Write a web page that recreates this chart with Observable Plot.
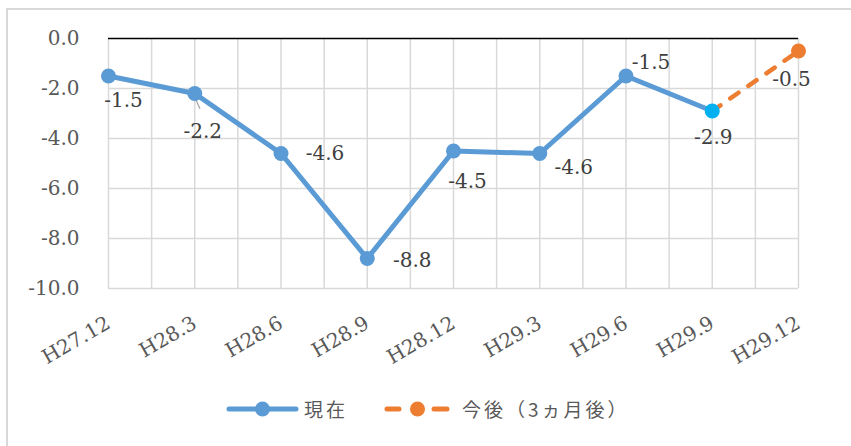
<!DOCTYPE html>
<html>
<head>
<meta charset="utf-8">
<script src="https://cdn.jsdelivr.net/npm/d3@7"></script>
<script src="https://cdn.jsdelivr.net/npm/@observablehq/plot@0.6"></script>
<style>
  html, body { margin: 0; padding: 0; background: #fff; }
  #wrap { position: relative; width: 851px; height: 446px; overflow: hidden; background: #fff; }
  #frame { position: absolute; left: 6px; top: 8px; width: 900px; height: 500px; border: 2px solid #d9d9d9; box-sizing: border-box; }
  #chart { position: absolute; left: 0; top: 0; }
  .leg { position: absolute; top: 398px; font-family: "Noto Sans CJK JP", sans-serif; font-size: 19px; letter-spacing: 3px; color: #595959; line-height: 22px; }
  .sw { position: absolute; top: 401px; }
</style>
</head>
<body>
<div id="wrap">
  <div id="frame"></div>
  <div id="chart"></div>
</div>
<script>
const categories = ["H27.12","H28.3","H28.6","H28.9","H28.12","H29.3","H29.6","H29.9","H29.12"];
const currentValues = [-1.5,-2.2,-4.6,-8.8,-4.5,-4.6,-1.5,-2.9,null];
const futureValues  = [null,null,null,null,null,null,null,-2.9,-0.5];
const yTicks = [0,-2,-4,-6,-8,-10];
const seriesNames = ["現在","今後（3ヵ月後）"];

// layout: label offsets (px) for each data label
const currentLabelOffsets = [[15,25],[8,38],[44,0],[45,2],[14,31],[34,14],[25,-13],[1,27]];
const futureLabelOffsets = [[0,0],[0,0],[0,0],[0,0],[0,0],[0,0],[0,0],[0,0],[-7,29]];

const blue = "#5B9BD5", orange = "#ED7D31", cyan = "#00B0F0";

const current = categories.map((c,i) => ({i, c, v: currentValues[i]})).filter(d => d.v != null);
const future = categories.map((c,i) => ({i, c, v: futureValues[i]})).filter(d => d.v != null);

const fmt = v => v.toFixed(1);
const fs = 20;
const serif = "DejaVu Serif";

const labelMarks = [
  ...current.map((d,k) => Plot.text([d], {x: "i", y: "v", text: d => fmt(d.v), dx: currentLabelOffsets[k][0], dy: currentLabelOffsets[k][1], fill: "#404040", fontSize: fs, fontFamily: serif})),
  ...future.filter(d => d.i === categories.length - 1).map(d => Plot.text([d], {x: "i", y: "v", text: d => fmt(d.v), dx: futureLabelOffsets[d.i][0], dy: futureLabelOffsets[d.i][1], fill: "#404040", fontSize: fs, fontFamily: serif}))
];

const leaderShape = {draw(ctx, l) { ctx.moveTo(0, 0); ctx.lineTo(0, -l); }};

const chart = Plot.plot({
  width: 851,
  height: 380,
  marginLeft: 108,
  marginRight: 53,
  marginTop: 38,
  marginBottom: 92,
  style: {background: "transparent", overflow: "visible"},
  x: {domain: [0, categories.length - 1], axis: null},
  y: {domain: [-10, 0], axis: null},
  marks: [
    Plot.ruleX(d3.range(0, categories.length - 0.99, 0.5), {stroke: "#d9d9d9", strokeWidth: 1.5}),
    Plot.ruleY(yTicks.filter(t => t !== 0), {stroke: "#d9d9d9", strokeWidth: 1.5}),
    Plot.ruleY([0], {stroke: "#000", strokeWidth: 1.5}),
    Plot.text(yTicks, {y: d => d, frameAnchor: "left", text: fmt, textAnchor: "end", dx: -29, fill: "#595959", fontSize: fs, fontFamily: serif}),
    Plot.text(d3.range(categories.length), {x: d => d, frameAnchor: "bottom", text: i => categories[i], rotate: -30, textAnchor: "end", lineAnchor: "middle", dx: 0, dy: 33, fill: "#595959", fontSize: fs, fontFamily: serif}),
    Plot.vector([current[1]], {x: "i", y: "v", length: 12, rotate: 155, anchor: "start", dy: 4, stroke: "#a6a6a6", strokeWidth: 1.2, shape: leaderShape}),
    Plot.line(future, {x: "i", y: "v", stroke: orange, strokeWidth: 4.5, strokeDasharray: "10,12", strokeLinecap: "round"}),
    Plot.line(current, {x: "i", y: "v", stroke: blue, strokeWidth: 5, strokeLinejoin: "round"}),
    Plot.dot(future.filter(d => d.i === categories.length - 1), {x: "i", y: "v", r: 7.5, fill: orange}),
    Plot.dot(current, {x: "i", y: "v", r: 7.5, fill: d => d.i === current.length - 1 ? cyan : blue}),
    ...labelMarks
  ]
});
document.getElementById("chart").appendChild(chart);

// legend
const wrap = document.getElementById("wrap");
function addSwatch(left, width, html) {
  const s = document.createElementNS("http://www.w3.org/2000/svg", "svg");
  s.setAttribute("width", width); s.setAttribute("height", 16);
  s.setAttribute("class", "sw"); s.style.left = left + "px";
  s.innerHTML = html;
  wrap.appendChild(s);
}
addSwatch(225, 75, `<line x1="4" y1="8" x2="71" y2="8" stroke="${blue}" stroke-width="5" stroke-linecap="round"/><circle cx="37.5" cy="8" r="7.5" fill="${blue}"/>`);
addSwatch(383, 70, `<line x1="4" y1="8" x2="16" y2="8" stroke="${orange}" stroke-width="5" stroke-linecap="round"/><circle cx="34.5" cy="8" r="7.5" fill="${orange}"/><line x1="51" y1="8" x2="64" y2="8" stroke="${orange}" stroke-width="5" stroke-linecap="round"/>`);
const l1 = document.createElement("div"); l1.className = "leg"; l1.style.left = "304px"; l1.textContent = seriesNames[0]; wrap.appendChild(l1);
const l2 = document.createElement("div"); l2.className = "leg"; l2.style.left = "462px"; l2.textContent = seriesNames[1]; wrap.appendChild(l2);
</script>
</body>
</html>
